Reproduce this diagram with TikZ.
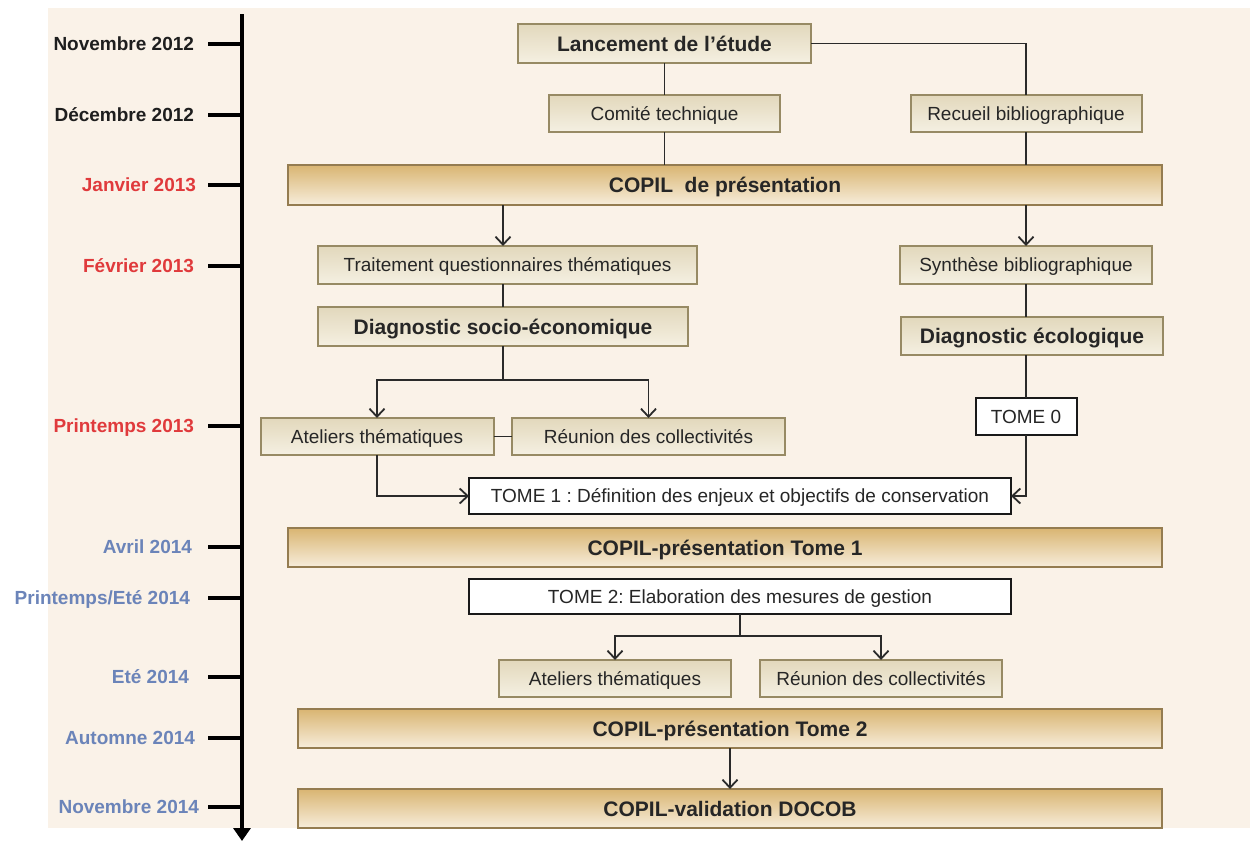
\documentclass[tikz,border=0pt]{standalone}
\usepackage{fontspec}
\setmainfont{Liberation Sans}
\usetikzlibrary{arrows.meta}
\definecolor{bg}{HTML}{FAF2E8}
\definecolor{boxtop}{HTML}{E2D8BC}
\definecolor{boxbot}{HTML}{F5F0E2}
\definecolor{boxline}{HTML}{978A64}
\definecolor{goldtop}{HTML}{D9B572}
\definecolor{goldbot}{HTML}{F7EDDB}
\definecolor{goldline}{HTML}{947C50}
\definecolor{linec}{HTML}{2A2A2A}
\definecolor{tlblack}{HTML}{1E1E1E}
\definecolor{tlred}{HTML}{E03A3C}
\definecolor{tlblue}{HTML}{6B84B9}
\frenchspacing
\begin{document}
\begin{tikzpicture}[x=1pt,y=-1pt,
  every node/.style={inner sep=0pt,outer sep=0pt},
  smallbox/.style={draw=boxline,line width=2pt,top color=boxtop,bottom color=boxbot,font=\fontsize{19}{22}\selectfont,text=black!85,text height=13.6pt,text depth=0pt},
  boldbox/.style={smallbox,font=\fontsize{21}{24}\selectfont\bfseries,text height=15pt},
  goldbar/.style={draw=goldline,line width=2pt,top color=goldtop,bottom color=goldbot,font=\fontsize{21}{24}\selectfont\bfseries,text=black!85,minimum height=39pt,text height=15pt,text depth=0pt},
  whitebox/.style={draw=black!90,line width=2pt,fill=white,font=\fontsize{19}{22}\selectfont,text=black!85,text height=13.6pt,text depth=0pt},
  tl/.style={anchor=east,font=\fontsize{19}{22}\selectfont\bfseries,text height=13.6pt,text depth=0pt},
  conn/.style={draw=linec,line width=1.8pt},
  arr/.style={conn,-{Straight Barb[length=8pt,width=15pt,line width=1.8pt]}}
]
\useasboundingbox (0,0) rectangle (1250,841);
\fill[bg] (48,8) rectangle (1250,828);

% timeline
\draw[line width=4.5pt,-{Triangle[length=13pt,width=17pt]}] (242,14) -- (242,841);
\foreach \yy in {44,115,185,266,426,547,598,677,738,807}
  \draw[line width=4.5pt] (208,\yy) -- (242,\yy);
\node[tl,text=tlblack] (t1) at (194,44) {Novembre 2012};
\node[tl,text=tlblack] (t2) at (194,115) {Décembre 2012};
\node[tl,text=tlred] (t3) at (196,185) {Janvier 2013};
\node[tl,text=tlred] (t4) at (194,266) {Février 2013};
\node[tl,text=tlred] (t5) at (194,426) {Printemps 2013};
\node[tl,text=tlblue] (t6) at (192,547) {Avril 2014};
\node[tl,text=tlblue] (t7) at (190,598) {Printemps/Eté 2014};
\node[tl,text=tlblue] (t8) at (189,677) {Eté 2014};
\node[tl,text=tlblue] (t9) at (195,738) {Automne 2014};
\node[tl,text=tlblue] (t10) at (199,807) {Novembre 2014};

% boxes
\node[boldbox,minimum width=293pt,minimum height=39pt] (lanc) at (664.5,43.5) {Lancement de l’étude};
\node[smallbox,minimum width=231pt,minimum height=37pt] (comite) at (664.5,113.5) {Comité technique};
\node[smallbox,minimum width=231pt,minimum height=37pt] (recueil) at (1026,113.5) {Recueil bibliographique};
\node[goldbar,minimum width=874pt,minimum height=40pt] (copil1) at (725,185) {COPIL\ \ de présentation};
\node[smallbox,minimum width=379pt,minimum height=38pt] (trait) at (507.5,265) {Traitement questionnaires thématiques};
\node[smallbox,minimum width=252pt,minimum height=38pt] (synth) at (1026,265) {Synthèse bibliographique};
\node[boldbox,minimum width=370pt,minimum height=39pt] (diagsoc) at (503,326.5) {Diagnostic socio-économique};
\node[boldbox,minimum width=262pt,minimum height=38pt] (diageco) at (1032,336) {Diagnostic écologique};
\node[whitebox,minimum width=101pt,minimum height=37pt] (tome0) at (1026,416.5) {TOME 0};
\node[smallbox,minimum width=233pt,minimum height=37pt] (at1) at (377,436.5) {Ateliers thématiques};
\node[smallbox,minimum width=273pt,minimum height=37pt] (re1) at (648.5,436.5) {Réunion des collectivités};
\node[whitebox,minimum width=542pt,minimum height=36pt] (tome1) at (740,496) {TOME 1 : Définition des enjeux et objectifs de conservation};
\node[goldbar,minimum width=874pt] (copilt1) at (725,547.5) {COPIL-présentation Tome 1};
\node[whitebox,minimum width=542pt,minimum height=35pt] (tome2) at (740,596.5) {TOME 2: Elaboration des mesures de gestion};
\node[smallbox,minimum width=232pt,minimum height=37pt] (at2) at (615,678.5) {Ateliers thématiques};
\node[smallbox,minimum width=242pt,minimum height=37pt] (re2) at (881,678.5) {Réunion des collectivités};
\node[goldbar,minimum width=864pt] (copilt2) at (730,728.5) {COPIL-présentation Tome 2};
\node[goldbar,minimum width=864pt] (docob) at (730,808.5) {COPIL-validation DOCOB};

% connectors
\draw[conn] (lanc.south) -- (comite.north);
\draw[conn] (lanc.east) -| (recueil.north);
\draw[conn] (comite.south) -- (comite.south |- copil1.north);
\draw[conn] (recueil.south) -- (recueil.south |- copil1.north);
\draw[arr] (diagsoc |- copil1.south) -- (diagsoc |- trait.north);
\draw[arr] (synth |- copil1.south) -- (synth.north);
\draw[conn] (diagsoc |- trait.south) -- (diagsoc.north);
\draw[conn] (synth.south) -- (synth.south |- diageco.north);
\draw[conn] (tome0 |- diageco.south) -- (tome0.north);
\coordinate (b1) at (503,380);
\draw[conn] (diagsoc.south) -- (b1);
\draw[arr] (b1) -| (at1.north);
\draw[arr] (b1) -| (re1.north);
\draw[conn] (at1.east) -- (re1.west);
\draw[arr] (at1.south) |- (tome1.west);
\draw[arr] (tome0.south) |- (tome1.east);
\coordinate (b2) at (740,636);
\draw[conn] (tome2.south) -- (b2);
\draw[arr] (b2) -| (at2.north);
\draw[arr] (b2) -| (re2.north);
\draw[arr] (copilt2.south) -- (docob.north);
\end{tikzpicture}
\end{document}
